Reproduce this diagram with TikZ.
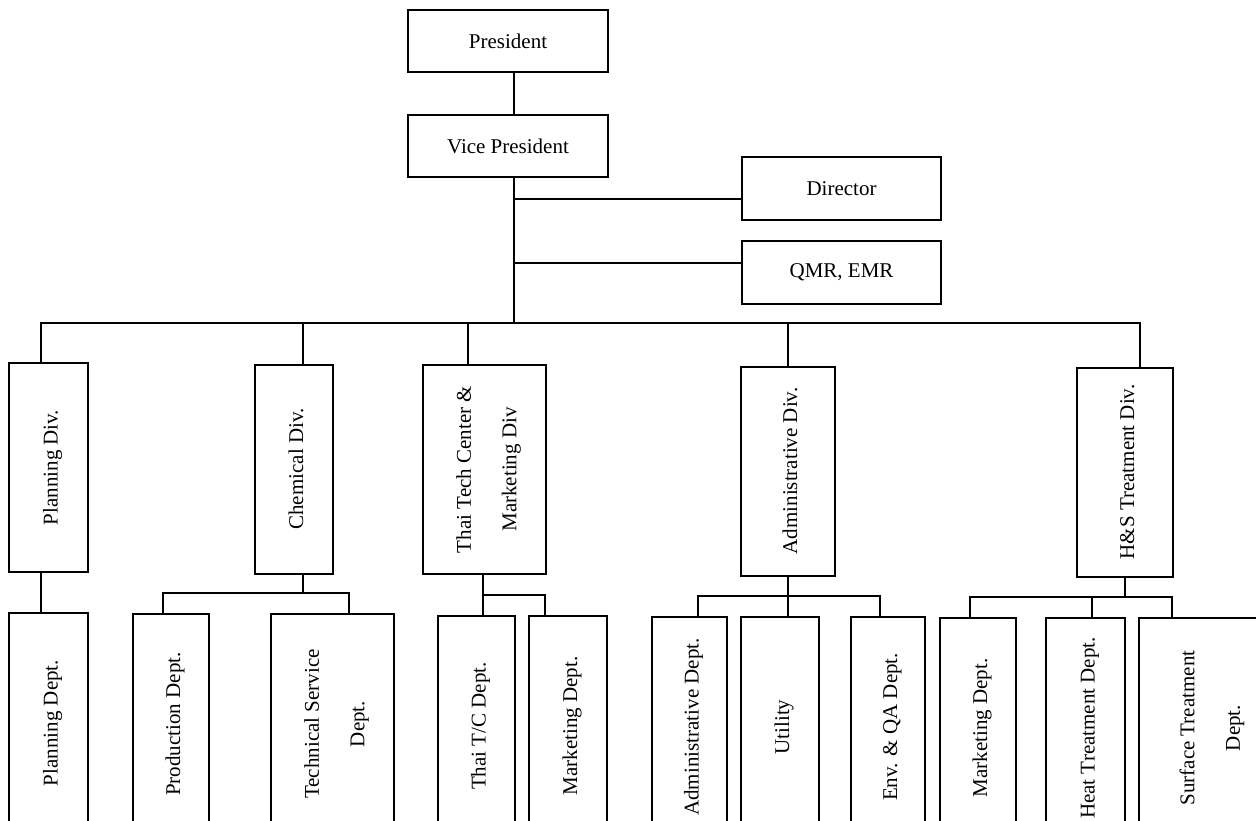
\documentclass[tikz,border=0pt]{standalone}
\usepackage{graphicx}
\usepackage{fontspec}
\setmainfont{Liberation Serif}
\usepackage{tikz}
\usetikzlibrary{positioning}

\newcommand{\vtext}[1]{\rotatebox{90}{\def\arraystretch{1.8}\begin{tabular}{@{}c@{}}#1\end{tabular}}}

\tikzset{
	box/.style={draw, line width=1pt, inner sep=2pt, align=center, fill=white,
		font=\fontsize{10.5}{12.6}\selectfont},
	divbox/.style={box, minimum height=104.5pt},
	deptbox/.style={box, minimum height=110pt},
	link/.style={line width=1pt}
}

\begin{document}
\begin{tikzpicture}[x=0.5pt, y=-0.5pt]
	
	\useasboundingbox[fill=white] (0,0) rectangle (1256,820);
	
	% --- TOP LEVEL ---
	\node[box, minimum width=100pt, minimum height=31pt] (pres) at (508,41) {President};
	\node[box, minimum width=100pt, minimum height=31pt] (vp) at (508,146) {Vice President};
	\node[box, minimum width=99.5pt, minimum height=31.5pt] (dir) at (841.5,188.5) {Director};
	\node[box, minimum width=99.5pt, minimum height=31.5pt] (qmr) at (841.5,272.5) {QMR, EMR};
	
	\coordinate (trunk) at (514,323);
	\coordinate (dirin) at ([yshift=-5pt]dir.west);
	\coordinate (qmrin) at ([yshift=5pt]qmr.west);
	\draw[link] (pres.south -| trunk) -- (vp.north -| trunk);
	\draw[link] (vp.south -| trunk) -- (trunk);
	\draw[link] (dirin -| trunk) -- (dirin);
	\draw[link] (qmrin -| trunk) -- (qmrin);
	
	% --- DIVISIONS ---
	\node[divbox, minimum width=39.5pt] (pdiv) at (48.5,467.5) {\vtext{Planning Div.}};
	\node[divbox, minimum width=39pt] (cdiv) at (294,469) {\vtext{Chemical Div.}};
	\node[divbox, minimum width=61.5pt] (tdiv) at (484.5,469.5) {\vtext{Thai Tech Center \&\\Marketing Div}};
	\node[divbox, minimum width=47pt] (adiv) at (788,471) {\vtext{Administrative Div.}};
	\node[divbox, minimum width=48pt] (hdiv) at (1125,472) {\vtext{H\&S Treatment Div.}};
	
	% main bus
	\coordinate (bPl) at (41,323);
	\coordinate (bCh) at (303,323);
	\coordinate (bTh) at (468,323);
	\coordinate (bAd) at (788,323);
	\coordinate (bHs) at (1140,323);
	\draw[link] (bPl |- pdiv.north) -- (bPl) -- (bHs) -- (bHs |- hdiv.north);
	\draw[link] (bCh) -- (bCh |- cdiv.north);
	\draw[link] (bTh) -- (bTh |- tdiv.north);
	\draw[link] (bAd) -- (adiv.north);
	
	% --- DEPARTMENTS ---
	\node[deptbox, minimum width=39.5pt] (pdep) at (48.5,723) {\vtext{Planning Dept.}};
	\node[deptbox, minimum width=38pt] (prod) at (171,724) {\vtext{Production Dept.}};
	\node[deptbox, minimum width=61.5pt] (tech) at (332.5,724) {\vtext{Technical Service\\Dept.}};
	\node[deptbox, minimum width=38.5pt] (ttc) at (476.5,726) {\vtext{Thai T/C Dept.}};
	\node[deptbox, minimum width=39pt] (tmkt) at (568,726) {\vtext{Marketing Dept.}};
	\node[deptbox, minimum width=37.5pt] (adep) at (689.5,727) {\vtext{Administrative Dept.}};
	\node[deptbox, minimum width=39pt] (util) at (780,727) {\vtext{Utility}};
	\node[deptbox, minimum width=37pt] (env) at (888,727) {\vtext{Env. \& QA Dept.}};
	\node[deptbox, minimum width=38pt] (hmkt) at (978,728) {\vtext{Marketing Dept.}};
	\node[deptbox, minimum width=39.5pt] (heat) at (1085.5,728) {\vtext{Heat Treatment Dept.}};
	\node[deptbox, minimum width=69pt] (surf) at (1208,728) {\vtext{Surface Treatment\\Dept.}};
	
	% planning
	\draw[link] (bPl |- pdiv.south) -- (bPl |- pdep.north);
	
	% chemical
	\coordinate (cL) at (163,593);
	\coordinate (cR) at (349,593);
	\draw[link] (bCh |- cdiv.south) -- (bCh |- cL);
	\draw[link] (cL |- prod.north) -- (cL) -- (cR) -- (cR |- tech.north);
	
	% thai tech center
	\coordinate (tL) at (483,595);
	\coordinate (tR) at (545,595);
	\draw[link] (tL |- tdiv.south) -- (tL |- ttc.north);
	\draw[link] (tL) -- (tR) -- (tR |- tmkt.north);
	
	% administrative
	\coordinate (aL) at (698,596);
	\coordinate (aR) at (880,596);
	\draw[link] (adiv.south) -- (adiv.south |- util.north);
	\draw[link] (aL |- adep.north) -- (aL) -- (aR) -- (aR |- env.north);
	
	% h&s treatment
	\coordinate (hL) at (970,597);
	\coordinate (hM) at (1092,597);
	\coordinate (hR) at (1172,597);
	\draw[link] (hdiv.south) -- (hdiv.south |- hL);
	\draw[link] (hL |- hmkt.north) -- (hL) -- (hR) -- (hR |- surf.north);
	\draw[link] (hM) -- (hM |- heat.north);
	
\end{tikzpicture}
\end{document}
